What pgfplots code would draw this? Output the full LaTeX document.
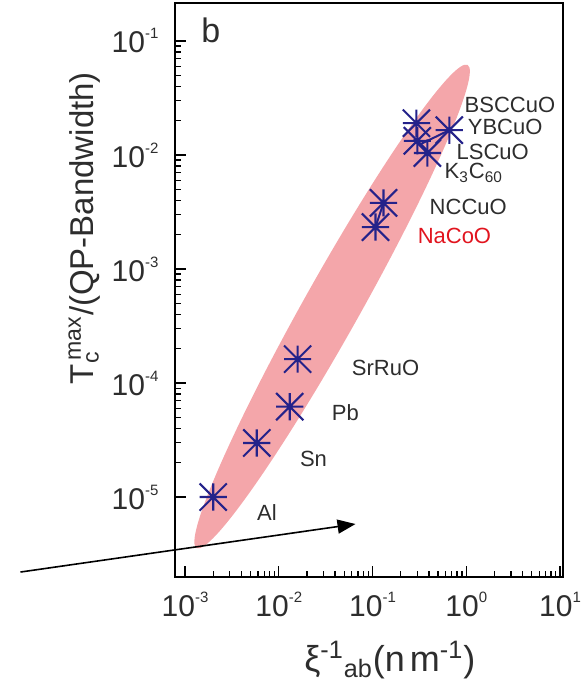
\documentclass[border=0pt]{standalone}
\usepackage{fontspec}
\setmainfont{Liberation Sans}
\usepackage{pgfplots}
\pgfplotsset{compat=1.18}
\usetikzlibrary{arrows.meta}

\definecolor{starblue}{RGB}{36,34,138}
\definecolor{band}{RGB}{244,166,170}
\definecolor{lbl}{RGB}{45,45,45}
\definecolor{nared}{RGB}{225,20,30}

% small raised exponent for the tick labels
\newcommand\ex[1]{\raisebox{7pt}{\fontsize{7.5}{8}\selectfont #1}}

% eight-armed asterisk: a plus and a cross on top of each other
\pgfdeclareplotmark{pluscross}{%
  \pgfpathmoveto{\pgfqpoint{-\pgfplotmarksize}{0pt}}%
  \pgfpathlineto{\pgfqpoint{\pgfplotmarksize}{0pt}}%
  \pgfpathmoveto{\pgfqpoint{0pt}{-\pgfplotmarksize}}%
  \pgfpathlineto{\pgfqpoint{0pt}{\pgfplotmarksize}}%
  \pgfpathmoveto{\pgfqpoint{-\pgfplotmarksize}{-\pgfplotmarksize}}%
  \pgfpathlineto{\pgfqpoint{\pgfplotmarksize}{\pgfplotmarksize}}%
  \pgfpathmoveto{\pgfqpoint{-\pgfplotmarksize}{\pgfplotmarksize}}%
  \pgfpathlineto{\pgfqpoint{\pgfplotmarksize}{-\pgfplotmarksize}}%
  \pgfusepathqstroke}

\begin{document}
\begin{tikzpicture}
\begin{axis}[
  at={(0,0)}, anchor=south west,
  scale only axis,
  width=193.75pt, height=287pt,
  xmode=log, ymode=log,
  xmin=7.92e-4, xmax=10.76,
  ymin=1.99e-6, ymax=0.215,
  axis line style={line width=1pt},
  tick pos=left,
  tick align=inside,
  major tick length=5.5pt,
  minor tick length=3pt,
  every tick/.style={black, line width=0.7pt},
  xtick={1e-3,1e-2,1e-1,1,10},
  xticklabels={10\ex{-3},10\ex{-2},10\ex{-1},10\ex{0},10\ex{1}},
  ytick={1e-5,1e-4,1e-3,1e-2,1e-1},
  yticklabels={10\ex{-5},10\ex{-4},10\ex{-3},10\ex{-2},10\ex{-1}},
  ticklabel style={font=\fontsize{15}{17}\selectfont, text=lbl},
  xticklabel style={yshift=-4pt},
  yticklabel style={xshift=-5pt},
  xlabel={ξ\textsuperscript{-1}\textsubscript{ab}(n\hspace{0.14em}m\textsuperscript{-1})},
  xlabel style={font=\fontsize{18}{20}\selectfont, text=lbl, at={(rel axis cs:0.553,-0.145)}, anchor=center},
  ylabel={T\textsubscript{c}\kern-0.28em\textsuperscript{max}/(QP-Bandwidth)},
  ylabel style={font=\fontsize{16.5}{18}\selectfont, text=lbl, at={(rel axis cs:-0.235,0.608)}, anchor=center},
  clip=false,
]

% shaded band enclosing all materials
\path (axis cs:0.0371,4.69e-4) coordinate (bandc);
\fill[band, rotate around={60.7:(bandc)}]
  (bandc) ellipse [x radius=138.5pt, y radius=14pt];

% links between neighbouring points
\addplot[starblue, line width=1pt] coordinates {(0.1077,2.33e-3) (0.131,3.8e-3)};
\addplot[starblue, line width=1pt] coordinates {(0.66,0.0165) (0.33,0.0125)};

% materials
\addplot[only marks, mark=pluscross, mark size=6.8pt, starblue,
  mark options={line width=1.05pt}] coordinates {
  (0.002,1.0e-5)      % Al
  (0.00583,2.98e-5)   % Sn
  (0.0131,6.2e-5)     % Pb
  (0.0159,1.62e-4)    % SrRuO
  (0.1077,2.33e-3)    % NaCoO
  (0.131,3.8e-3)      % NCCuO
  (0.294,0.019)       % BSCCuO
  (0.66,0.0165)       % YBCuO
  (0.301,0.0133)      % LSCuO
  (0.385,0.0104)      % K3C60
};

\begin{scope}[font=\fontsize{11}{13}\selectfont, text=lbl]
\node[anchor=base west, inner sep=0pt] at (axis cs:0.953,0.0236) {BSCCuO};
\node[anchor=base west, inner sep=0pt] at (axis cs:1.03,0.0151) {YBCuO};
\node[anchor=base west, inner sep=0pt] at (axis cs:0.783,0.00915) {LSCuO};
\node[anchor=base west, inner sep=0pt] at (axis cs:0.583,0.00618) {K\textsubscript{3}C\textsubscript{60}};
\node[anchor=base west, inner sep=0pt] at (axis cs:0.404,0.00301) {NCCuO};
\node[anchor=base west, inner sep=0pt, text=nared] at (axis cs:0.301,0.00167) {NaCoO};
\node[anchor=base west, inner sep=0pt] at (axis cs:0.0598,1.16e-4) {SrRuO};
\node[anchor=base west, inner sep=0pt] at (axis cs:0.0366,4.69e-5) {Pb};
\node[anchor=base west, inner sep=0pt] at (axis cs:0.0167,1.85e-5) {Sn};
\node[anchor=base west, inner sep=0pt] at (axis cs:0.00583,6.22e-6) {Al};
\end{scope}

\node[font=\fontsize{17}{19}\selectfont, text=lbl] at (axis cs:0.00189,0.125) {b};

% arrow crossing the lower left corner
\draw[line width=0.8pt, -{Triangle[length=9pt,width=7pt]}]
  (axis cs:1.76e-5,2.2e-6) -- (axis cs:0.0659,5.8e-6);
\end{axis}
\pgfresetboundingbox
\path (-87.75pt,-54pt) rectangle (205.5pt,288.5pt);
\end{tikzpicture}
\end{document}
